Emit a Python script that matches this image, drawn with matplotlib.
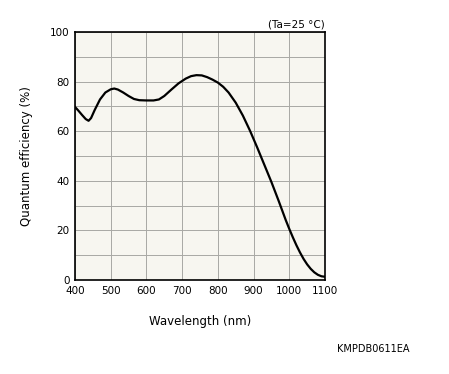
import matplotlib
matplotlib.use('Agg')
import matplotlib.pyplot as plt

wavelength = [400, 410, 420, 430, 438, 445, 455, 470, 485, 500, 510, 520, 535,
              550, 565, 580, 600, 620, 635, 650, 670, 690, 710, 725, 740, 755,
              770, 785, 800, 815, 830, 850, 870, 890, 910, 930, 950, 970, 990,
              1000, 1010, 1020, 1030, 1040, 1050, 1060, 1070, 1080, 1090, 1100]
qe = [69.8, 68.2, 66.5, 64.9, 64.2, 65.3, 68.5, 72.8, 75.6, 76.9, 77.2, 76.8, 75.6,
      74.2, 73.0, 72.5, 72.4, 72.4, 72.8, 74.2, 76.8, 79.3, 81.2, 82.2, 82.6, 82.5,
      81.8, 80.8, 79.6, 77.9, 75.6, 71.5, 66.3, 60.2, 53.5, 46.5, 39.5, 32.0, 24.2,
      20.6, 17.2, 14.0, 11.1, 8.5, 6.3, 4.5, 3.1, 2.1, 1.5, 1.3]

plt.rcParams['font.family'] = ['DejaVu Sans']
fig = plt.figure(figsize=(4.49, 3.74), dpi=100)
ax = fig.add_axes([75 / 449, 1 - 280 / 374, 250 / 449, 248 / 374])
ax.set_facecolor('#f7f6f0')

ax.plot(wavelength, qe, color='black', lw=1.6)
ax.set_xlim(400, 1100)
ax.set_ylim(0, 100)
ax.set_xticks(range(400, 1101, 100))
ax.set_yticks(range(0, 101, 20))
ax.set_yticks(range(10, 100, 20), minor=True)
ax.grid(True, which='both', color='#a8a8a4', lw=0.7)
ax.tick_params(which='both', length=0, labelsize=7.5, pad=4)
for s in ax.spines.values():
    s.set_linewidth(1.2)

ax.set_xlabel('Wavelength (nm)', fontsize=8.5, labelpad=14)
ax.set_ylabel('Quantum efficiency (%)', fontsize=8.5, labelpad=12)
ax.text(1.0, 1.01, '(Ta=25 °C)', transform=ax.transAxes, ha='right', va='bottom',
        fontsize=7.5)
fig.text(410 / 449, 1 - 349 / 374, 'KMPDB0611EA', ha='right', va='center', fontsize=7)

fig.savefig('out.png', dpi=100)
